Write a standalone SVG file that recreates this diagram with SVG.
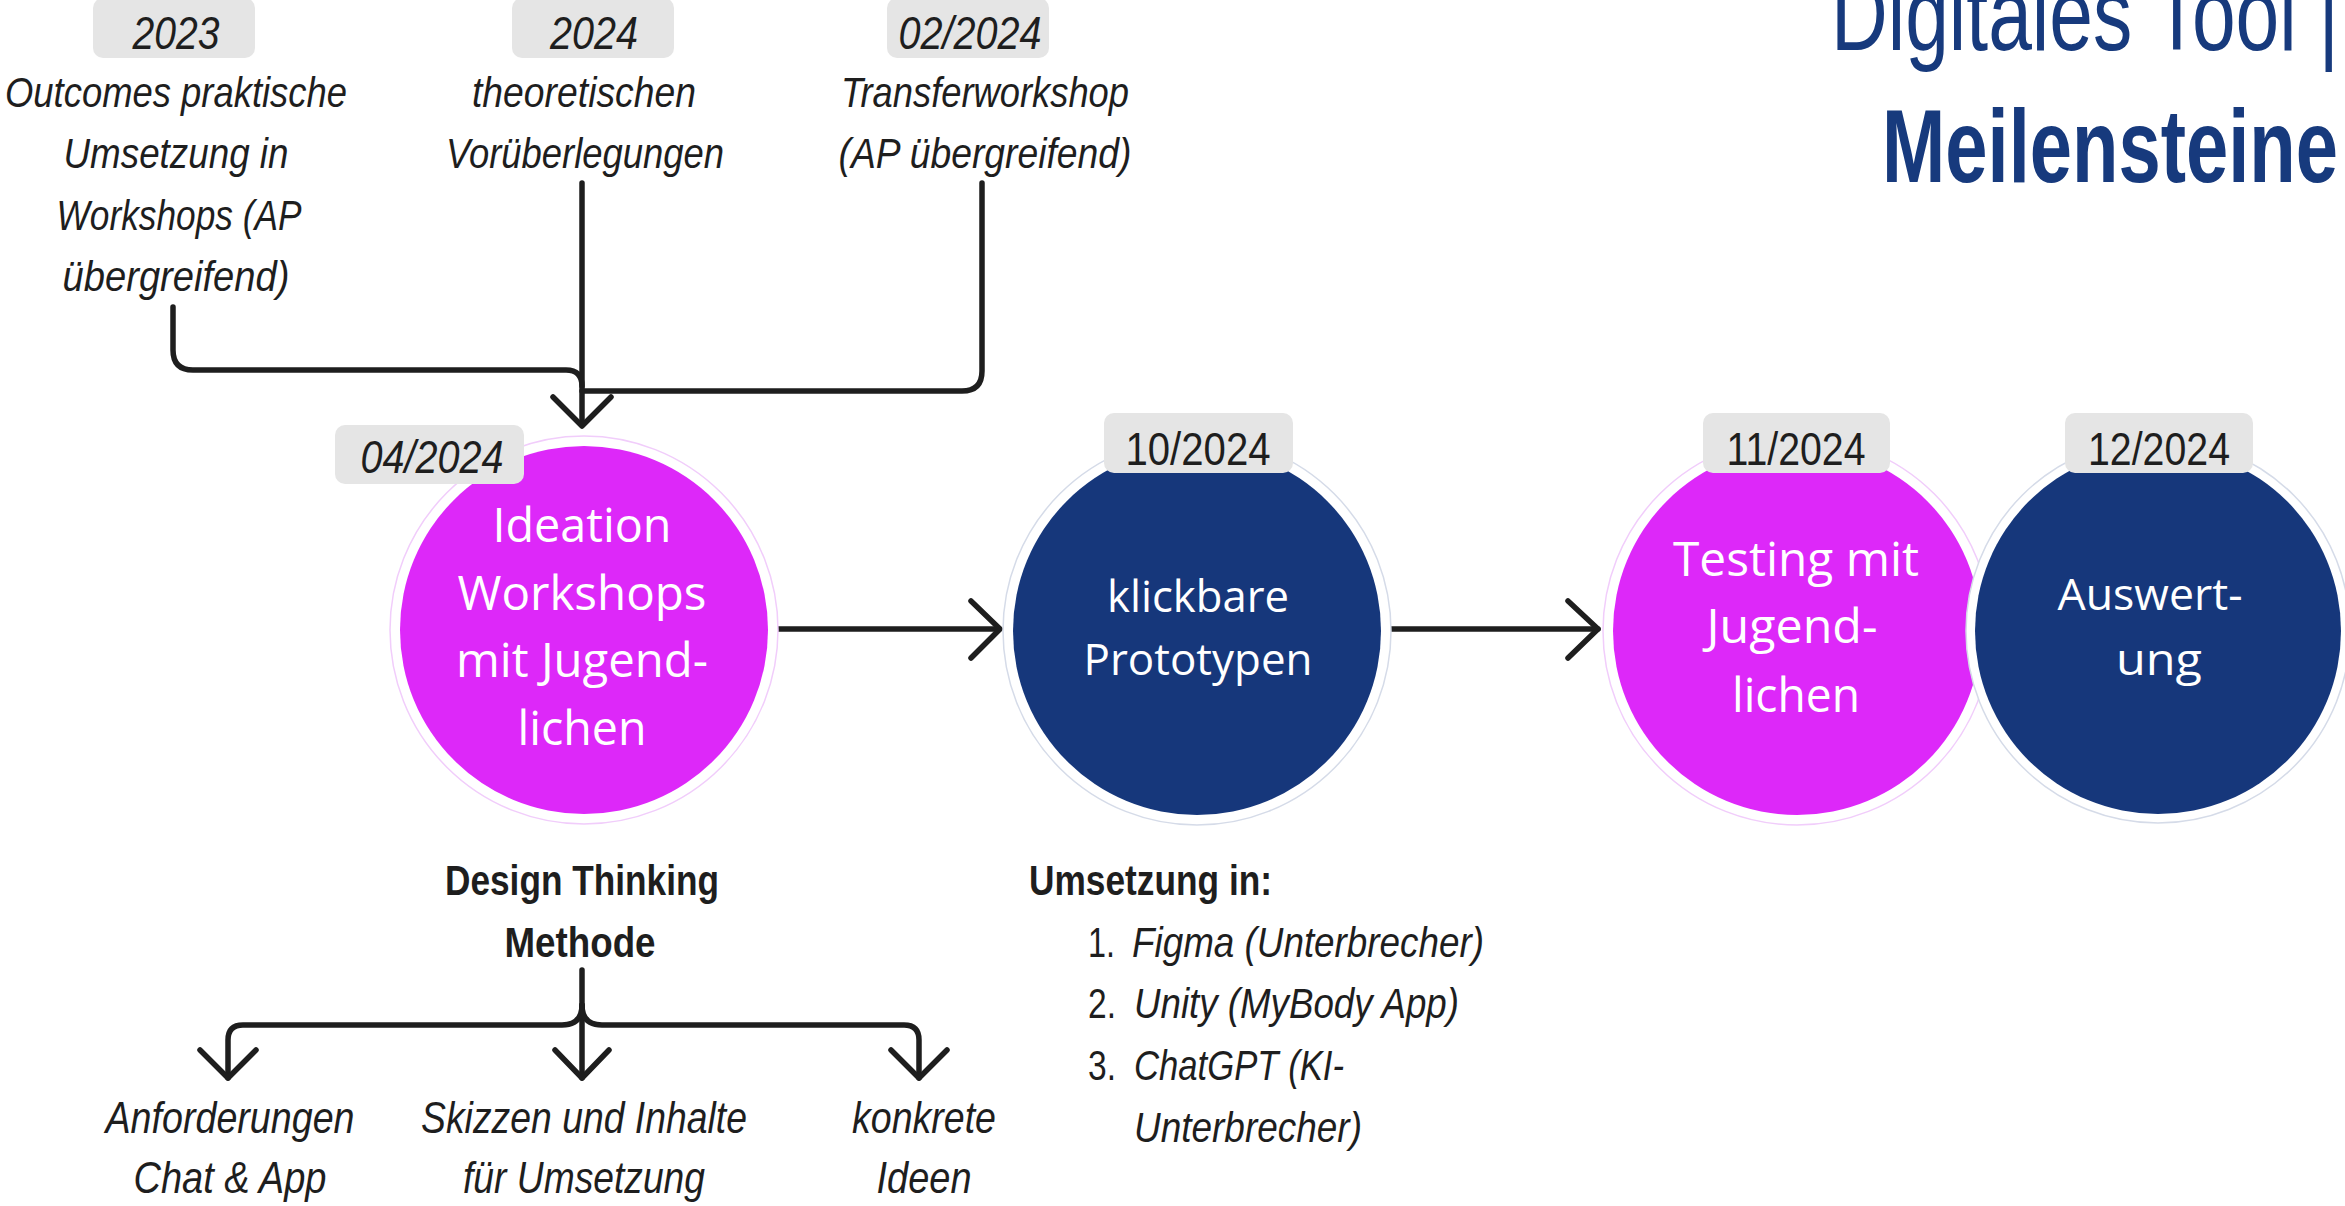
<svg xmlns="http://www.w3.org/2000/svg" width="2345" height="1206" viewBox="0 0 2345 1206">
<style>
.lbl{font-family:"Liberation Sans",Arial,sans-serif;font-style:italic;fill:#1e1e1e;text-anchor:middle}
.top{font-size:43px}
.bot{font-size:44px}
.tagt{font-family:"Liberation Sans",Arial,sans-serif;font-size:46px;fill:#1e1e1e;text-anchor:middle}
.it{font-style:italic}
.tag{fill:#e5e5e5}
.ring-m{fill:#ffffff;stroke:#f1cdfb;stroke-width:1.5}
.ring-n{fill:#ffffff;stroke:#d5dbe8;stroke-width:1.5}
.mag{fill:#dd28f9}
.navy{fill:#16377b}
.nt{font-family:"Open Sans","Noto Sans",sans-serif;fill:#ffffff;text-anchor:middle}
.nm{font-size:47px}
.nn{font-size:44px}
.bold{font-family:"Liberation Sans",Arial,sans-serif;font-weight:bold;fill:#1e1e1e}
.list{font-family:"Liberation Sans",Arial,sans-serif;font-size:42px;fill:#1e1e1e}
.title{font-family:"Liberation Sans",Arial,sans-serif;font-size:103px;fill:#173a7d}
.conn{fill:none;stroke:#1e1e1e;stroke-width:5.5;stroke-linejoin:round;stroke-linecap:round}
</style>

<g id="title">
  <text class="title" x="1831" y="50" textLength="508" lengthAdjust="spacingAndGlyphs">Digitales Tool |</text>
  <text class="title" x="1882" y="182" font-weight="bold" textLength="456" lengthAdjust="spacingAndGlyphs">Meilensteine</text>
</g>

<g id="connectors">
  <path class="conn" d="M173,307 V350 Q173,370 193,370 H566 Q582,370 582,386"/>
  <path class="conn" d="M982,183 V371 Q982,391 962,391 H582"/>
  <path class="conn" d="M582,183 V425"/>
  <path class="conn" d="M553,397 L582,426 L611,397"/>
  <path class="conn" d="M774,629 H999"/>
  <path class="conn" d="M971,601 L1000,629 L971,658"/>
  <path class="conn" d="M1391,629 H1598"/>
  <path class="conn" d="M1568,601 L1598,629 L1568,658"/>
  <path class="conn" d="M582,970 V1078"/>
  <path class="conn" d="M555,1050 L582,1078 L609,1050"/>
  <path class="conn" d="M582,1005 Q582,1025 562,1025 H243 Q228,1025 228,1040 V1078"/>
  <path class="conn" d="M200,1050 L228,1078 L256,1050"/>
  <path class="conn" d="M582,1005 Q582,1025 602,1025 H904 Q919,1025 919,1040 V1078"/>
  <path class="conn" d="M891,1050 L919,1078 L947,1050"/>
</g>

<g id="src-2023">
  <rect class="tag" x="93" y="-2" width="162" height="60" rx="10"/>
  <text class="tagt it" x="176" y="49" textLength="87" lengthAdjust="spacingAndGlyphs">2023</text>
  <text class="lbl top" x="176" y="107" textLength="342" lengthAdjust="spacingAndGlyphs">Outcomes praktische</text>
  <text class="lbl top" x="176" y="168" textLength="225" lengthAdjust="spacingAndGlyphs">Umsetzung in</text>
  <text class="lbl top" x="179" y="230" textLength="245" lengthAdjust="spacingAndGlyphs">Workshops (AP</text>
  <text class="lbl top" x="176" y="291" textLength="227" lengthAdjust="spacingAndGlyphs">übergreifend)</text>
</g>

<g id="src-2024">
  <rect class="tag" x="512" y="-2" width="162" height="60" rx="10"/>
  <text class="tagt it" x="594" y="49" textLength="88" lengthAdjust="spacingAndGlyphs">2024</text>
  <text class="lbl top" x="584" y="107" textLength="224" lengthAdjust="spacingAndGlyphs">theoretischen</text>
  <text class="lbl top" x="585" y="168" textLength="278" lengthAdjust="spacingAndGlyphs">Vorüberlegungen</text>
</g>

<g id="src-022024">
  <rect class="tag" x="887" y="-2" width="162" height="60" rx="10"/>
  <text class="tagt it" x="970" y="49" textLength="143" lengthAdjust="spacingAndGlyphs">02/2024</text>
  <text class="lbl top" x="985" y="107" textLength="288" lengthAdjust="spacingAndGlyphs">Transferworkshop</text>
  <text class="lbl top" x="985" y="168" textLength="293" lengthAdjust="spacingAndGlyphs">(AP übergreifend)</text>
</g>

<g id="node-ideation">
  <circle class="ring-m" cx="584" cy="630" r="194"/>
  <circle class="mag" cx="584" cy="630" r="184"/>
  <rect class="tag" x="335" y="425" width="189" height="59" rx="10"/>
  <text class="tagt it" x="432" y="473" textLength="143" lengthAdjust="spacingAndGlyphs">04/2024</text>
  <text class="nt nm" x="582" y="542" textLength="179" lengthAdjust="spacingAndGlyphs">Ideation</text>
  <text class="nt nm" x="582" y="610" textLength="249" lengthAdjust="spacingAndGlyphs">Workshops</text>
  <text class="nt nm" x="582" y="677" textLength="252" lengthAdjust="spacingAndGlyphs">mit Jugend-</text>
  <text class="nt nm" x="582" y="745" textLength="129" lengthAdjust="spacingAndGlyphs">lichen</text>
</g>

<g id="node-prototypen">
  <circle class="ring-n" cx="1197" cy="631" r="194"/>
  <circle class="navy" cx="1197" cy="631" r="184"/>
  <rect class="tag" x="1104" y="413" width="189" height="60" rx="10"/>
  <text class="tagt" x="1198" y="465" textLength="145" lengthAdjust="spacingAndGlyphs">10/2024</text>
  <text class="nt nn" x="1198" y="612" textLength="182" lengthAdjust="spacingAndGlyphs">klickbare</text>
  <text class="nt nn" x="1198" y="675" textLength="229" lengthAdjust="spacingAndGlyphs">Prototypen</text>
</g>

<g id="node-testing">
  <circle class="ring-m" cx="1797" cy="631" r="194"/>
  <circle class="mag" cx="1797" cy="631" r="184"/>
  <rect class="tag" x="1703" y="413" width="187" height="60" rx="10"/>
  <text class="tagt" x="1796" y="465" textLength="139" lengthAdjust="spacingAndGlyphs">11/2024</text>
  <text class="nt nm" x="1796" y="576" textLength="246" lengthAdjust="spacingAndGlyphs">Testing mit</text>
  <text class="nt nm" x="1792" y="643" textLength="171" lengthAdjust="spacingAndGlyphs">Jugend-</text>
  <text class="nt nm" x="1796" y="712" textLength="128" lengthAdjust="spacingAndGlyphs">lichen</text>
</g>

<g id="node-auswertung">
  <circle class="ring-n" cx="2158" cy="631" r="192"/>
  <circle class="navy" cx="2158" cy="631" r="183"/>
  <rect class="tag" x="2065" y="413" width="188" height="60" rx="10"/>
  <text class="tagt" x="2159" y="465" textLength="142" lengthAdjust="spacingAndGlyphs">12/2024</text>
  <text class="nt nn" x="2150" y="610" textLength="185" lengthAdjust="spacingAndGlyphs">Auswert-</text>
  <text class="nt nn" x="2159" y="675" textLength="86" lengthAdjust="spacingAndGlyphs">ung</text>
</g>

<g id="design-thinking">
  <text class="bold" x="582" y="895" font-size="42" text-anchor="middle" textLength="274" lengthAdjust="spacingAndGlyphs">Design Thinking</text>
  <text class="bold" x="580" y="957" font-size="42" text-anchor="middle" textLength="151" lengthAdjust="spacingAndGlyphs">Methode</text>
</g>

<g id="out-anforderungen">
  <text class="lbl bot" x="230" y="1133" textLength="249" lengthAdjust="spacingAndGlyphs">Anforderungen</text>
  <text class="lbl bot" x="230" y="1193" textLength="193" lengthAdjust="spacingAndGlyphs">Chat &amp; App</text>
</g>

<g id="out-skizzen">
  <text class="lbl bot" x="584" y="1133" textLength="326" lengthAdjust="spacingAndGlyphs">Skizzen und Inhalte</text>
  <text class="lbl bot" x="584" y="1193" textLength="242" lengthAdjust="spacingAndGlyphs">für Umsetzung</text>
</g>

<g id="out-ideen">
  <text class="lbl bot" x="924" y="1133" textLength="144" lengthAdjust="spacingAndGlyphs">konkrete</text>
  <text class="lbl bot" x="924" y="1193" textLength="95" lengthAdjust="spacingAndGlyphs">Ideen</text>
</g>

<g id="umsetzung">
  <text class="bold" x="1029" y="895" font-size="43" textLength="243" lengthAdjust="spacingAndGlyphs">Umsetzung in:</text>
  <text class="list" x="1088" y="957" textLength="27" lengthAdjust="spacingAndGlyphs">1.</text>
  <text class="list it" x="1132" y="957" textLength="352" lengthAdjust="spacingAndGlyphs">Figma (Unterbrecher)</text>
  <text class="list" x="1088" y="1018" textLength="28" lengthAdjust="spacingAndGlyphs">2.</text>
  <text class="list it" x="1134" y="1018" textLength="325" lengthAdjust="spacingAndGlyphs">Unity (MyBody App)</text>
  <text class="list" x="1088" y="1080" textLength="28" lengthAdjust="spacingAndGlyphs">3.</text>
  <text class="list it" x="1134" y="1080" textLength="210" lengthAdjust="spacingAndGlyphs">ChatGPT (KI-</text>
  <text class="list it" x="1134" y="1142" textLength="228" lengthAdjust="spacingAndGlyphs">Unterbrecher)</text>
</g>
</svg>
